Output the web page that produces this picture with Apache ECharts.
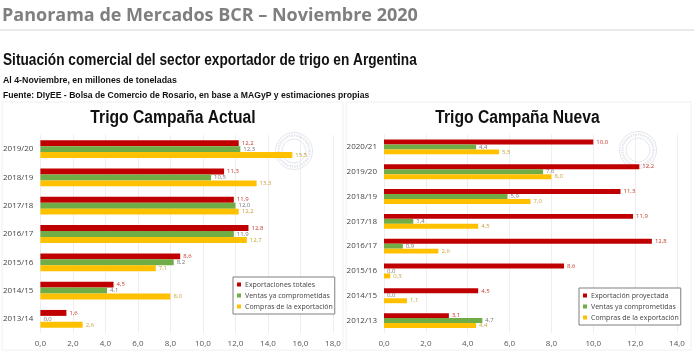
<!DOCTYPE html>
<html>
<head>
<meta charset="utf-8">
<style>
  html, body { margin: 0; padding: 0; background: #fff; }
  #main { width: 694px; height: 354px; }
</style>
<script src="https://cdn.jsdelivr.net/npm/echarts@6/dist/echarts.min.js"></script>
</head>
<body>
<div id="main"></div>
<script>
// Campaña actual
var catsActual = ['2019/20', '2018/19', '2017/18', '2016/17', '2015/16', '2014/15', '2013/14'];
var exportTotales = [12.2, 11.3, 11.9, 12.8, 8.6, 4.5, 1.6];
var ventasActual = [12.3, 10.5, 12.0, 11.9, 8.2, 4.1, 0.0];
var comprasActual = [15.5, 13.3, 12.2, 12.7, 7.1, 8.0, 2.6];

// Campaña nueva
var catsNueva = ['2020/21', '2019/20', '2018/19', '2017/18', '2016/17', '2015/16', '2014/15', '2012/13'];
var exportProyectada = [10.0, 12.2, 11.3, 11.9, 12.8, 8.6, 4.5, 3.1];
var ventasNueva = [4.4, 7.6, 5.9, 1.4, 0.9, 0.0, 0.0, 4.7];
var comprasNueva = [5.5, 8.0, 7.0, 4.5, 2.6, 0.3, 1.1, 4.4];

var ROJO = '#c00000', VERDE = '#70ad47', AMARILLO = '#ffc000';
var sans = '"Liberation Sans", sans-serif';

function coma(v) { return v.toFixed(1).replace('.', ','); }

function serie(name, data, color, labelColor, idx, gap) {
  return {
    name: name, type: 'bar', data: data,
    xAxisIndex: idx, yAxisIndex: idx,
    barGap: 0, barCategoryGap: gap,
    itemStyle: { color: color },
    label: {
      show: true, position: 'right', distance: 3,
      fontSize: 6, fontFamily: 'Open Sans', color: labelColor,
      formatter: function (p) { return coma(p.value); }
    }
  };
}

function ejeX(idx, max) {
  return {
    type: 'value', gridIndex: idx, min: 0, max: max, interval: 2,
    axisLine: { show: false }, axisTick: { show: false },
    splitLine: { lineStyle: { color: '#eeeeee', width: 1 } },
    axisLabel: { fontSize: 8, color: '#555', fontFamily: 'Open Sans', margin: 7, formatter: coma }
  };
}

function ejeY(idx, cats) {
  return {
    type: 'category', gridIndex: idx, data: cats, inverse: true,
    axisLine: { show: false }, axisTick: { show: false },
    axisLabel: { fontSize: 8, color: '#444', fontFamily: 'Open Sans', margin: 7 }
  };
}

function leyenda(names, left, top) {
  return {
    data: names, left: left, top: top, orient: 'vertical',
    itemWidth: 4, itemHeight: 4, itemGap: 4, padding: [4, 2, 4, 4],
    icon: 'rect', borderColor: '#7f7f7f', borderWidth: 1, backgroundColor: '#fff',
    textStyle: { fontSize: 7, color: '#444', fontFamily: 'Open Sans', padding: [0, 0, 0, -1] }
  };
}

// sello de la bolsa, de fondo y muy tenue
function sello(cx, cy) {
  var c = '#e3e6ec';
  return [
    { type: 'circle', z: 0, shape: { cx: cx, cy: cy, r: 18.5 }, style: { fill: 'none', stroke: c, lineWidth: 1 } },
    { type: 'circle', z: 0, shape: { cx: cx, cy: cy, r: 15.5 }, style: { fill: 'none', stroke: c, lineWidth: 2.5, lineDash: [1.5, 1] } },
    { type: 'circle', z: 0, shape: { cx: cx, cy: cy, r: 12 }, style: { fill: 'none', stroke: c, lineWidth: 1 } }
  ];
}

// scaleX: los textos del original son de una fuente condensada
function texto(t, x, y, font, fill, scaleX, align) {
  return {
    type: 'text', x: x, y: y, scaleX: scaleX || 1,
    style: { text: t, font: font, fill: fill, align: align || 'left', verticalAlign: 'middle' }
  };
}

var chart = echarts.init(document.getElementById('main'));
chart.setOption({
  animation: false,
  backgroundColor: '#fff',
  grid: [
    { left: 40, width: 293, top: 135, height: 198 },
    { left: 384, width: 293, top: 134.5, height: 198.5 }
  ],
  xAxis: [ejeX(0, 18), ejeX(1, 14)],
  yAxis: [ejeY(0, catsActual), ejeY(1, catsNueva)],
  legend: [
    leyenda(['Exportaciones totales', 'Ventas ya comprometidas', 'Compras de la exportación'], 233, 277),
    leyenda(['Exportación proyectada', 'Ventas ya comprometidas', 'Compras de la exportación'], 579, 288)
  ],
  series: [
    serie('Exportaciones totales', exportTotales, ROJO, '#c0392b', 0, '37%'),
    serie('Ventas ya comprometidas', ventasActual, VERDE, '#777', 0, '37%'),
    serie('Compras de la exportación', comprasActual, AMARILLO, '#c9a13a', 0, '37%'),
    serie('Exportación proyectada', exportProyectada, ROJO, '#c0392b', 1, '40%'),
    serie('Ventas ya comprometidas', ventasNueva, VERDE, '#777', 1, '40%'),
    serie('Compras de la exportación', comprasNueva, AMARILLO, '#c9a13a', 1, '40%')
  ],
  graphic: [
    { type: 'rect', z: 0, shape: { x: 2, y: 102, width: 341, height: 248 }, style: { fill: 'none', stroke: '#f0f0f0' } },
    { type: 'rect', z: 0, shape: { x: 346, y: 102, width: 345, height: 248 }, style: { fill: 'none', stroke: '#f0f0f0' } },
    { type: 'line', shape: { x1: 0, y1: 30, x2: 694, y2: 30 }, style: { stroke: '#d4d4d4', lineWidth: 1 } },
    texto('Panorama de Mercados BCR – Noviembre 2020', 2, 16, 'bold 18px "Open Sans"', '#7f7f7f'),
    texto('Situación comercial del sector exportador de trigo en Argentina', 3, 61, 'bold 16px ' + sans, '#111', 0.854),
    texto('Al 4-Noviembre, en millones de toneladas', 3, 80, 'bold 9.5px ' + sans, '#111', 0.925),
    texto('Fuente: DIyEE - Bolsa de Comercio de Rosario, en base a MAGyP y estimaciones propias', 3, 95, 'bold 9.5px ' + sans, '#111', 0.908),
    texto('Trigo Campaña Actual', 173, 118, 'bold 18px ' + sans, '#111', 0.87, 'center'),
    texto('Trigo Campaña Nueva', 517.5, 118, 'bold 18px ' + sans, '#111', 0.87, 'center')
  ].concat(sello(294, 151), sello(638, 150))
});
</script>
</body>
</html>
